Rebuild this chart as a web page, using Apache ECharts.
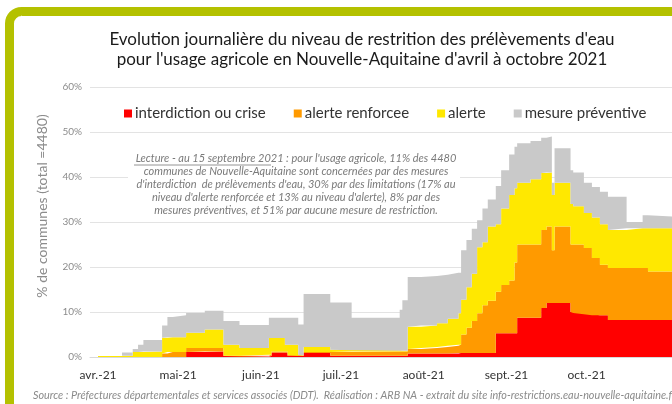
<!DOCTYPE html>
<html>
<head>
<meta charset="utf-8">
<script src="https://cdn.jsdelivr.net/npm/echarts@6/dist/echarts.min.js"></script>
<style>
    html, body { margin: 0; padding: 0; background: #ffffff; }
    #chart { width: 672px; height: 404px; }
</style>
</head>
<body>
<div id="chart"></div>
<script>
// dates where at least one level changes (value holds until the next date)
const breakDates = [
    "2021-04-01", "2021-04-10", "2021-04-14", "2021-04-16", "2021-04-18", "2021-04-25",
    "2021-04-27", "2021-04-29", "2021-05-04", "2021-05-11", "2021-05-18", "2021-05-24",
    "2021-06-04", "2021-06-05", "2021-06-10", "2021-06-11", "2021-06-15", "2021-06-17",
    "2021-06-27", "2021-07-05", "2021-07-23", "2021-07-24", "2021-07-26", "2021-07-31",
    "2021-08-06", "2021-08-10", "2021-08-14", "2021-08-15", "2021-08-17", "2021-08-19",
    "2021-08-21", "2021-08-23", "2021-08-25", "2021-08-28", "2021-08-30", "2021-09-02",
    "2021-09-04", "2021-09-05", "2021-09-10", "2021-09-14", "2021-09-16", "2021-09-18",
    "2021-09-19", "2021-09-25", "2021-09-26", "2021-09-30", "2021-10-03", "2021-10-06",
    "2021-10-09", "2021-10-16", "2021-10-22", "2021-10-24", "2021-11-02",
]

// % de communes par niveau
const crise = [
    0, 0, 0, 0, 0, 0,
    0, 0, 1.1, 1.2, 0.2, 0.1,
    0.2, 1.0, 1.0, 0.3, 0.2, 0.9,
    0.3, 0.3, 0.3, 0.3, 0.8, 0.8,
    0.8, 0.8, 0.9, 0.9, 0.9, 0.9,
    0.9, 0.9, 0.9, 5.3, 5.3, 5.3,
    5.3, 8.7, 8.7, 10.9, 12.0, 12.0,
    12.0, 10.0, 9.8, 9.5, 9.3, 9.3,
    8.2, 8.2, 8.2, 8.2, 8.2,
]
const renforcee = [
    0, 0, 0, 0, 0, 0.8,
    1.1, 1.1, 0.9, 0.8, 0.1, 0.2,
    0.3, 0.2, 0.2, 0.2, 0.1, 0.2,
    0.8, 0.9, 0.9, 0.9, 1.0, 1.2,
    1.4, 1.7, 1.8, 4.1, 5.6, 7.1,
    8.8, 10.6, 11.6, 9.2, 10.7, 11.7,
    15.7, 16.3, 16.3, 17.3, 17.0, 11.7,
    17.0, 15.0, 15.2, 14.7, 12.7, 11.2,
    11.6, 11.6, 11.6, 10.8, 10.8,
]
const alerte = [
    0.2, 0.3, 1.1, 1.1, 1.2, 3.5,
    3.3, 3.3, 3.4, 4.1, 2.4, 1.7,
    3.7, 3.0, 1.5, 2.2, 0.1, 1.1,
    0.5, 0.3, 0.2, 0.2, 4.9, 5.0,
    5.3, 6.0, 7.0, 7.7, 9.0, 10.5,
    14.7, 14.0, 16.5, 15.0, 17.0, 19.0,
    16.5, 13.7, 14.5, 12.7, 12.0, 12.3,
    9.7, 9.0, 8.5, 7.8, 9.0, 9.0,
    8.4, 8.8, 8.8, 9.6, 9.6,
]
const preventive = [
    0, 0.7, 0.7, 1.6, 2.6, 2.7,
    4.5, 4.9, 4.4, 4.2, 5.3, 5.1,
    4.5, 4.5, 6.0, 6.0, 6.8, 11.8,
    10.5, 7.2, 9.1, 11.2, 11.1, 11.0,
    10.8, 10.2, 9.0, 11.0, 10.5, 10.0,
    6.0, 7.5, 6.0, 8.5, 8.5, 9.0,
    9.2, 8.8, 8.5, 7.8, 8.0, 2.7,
    7.7, 7.5, 7.5, 6.7, 6.8, 7.2,
    7.4, 1.4, 2.9, 2.6, 2.6,
]

const seriesNames = ["interdiction ou crise", "alerte renforcee", "alerte", "mesure préventive"]
const seriesColors = ["#ff0000", "#ff9a00", "#ffe800", "#c9c9c9"]
const monthLabels = ["avr.-21", "mai-21", "juin-21", "juil.-21", "août-21", "sept.-21", "oct.-21"]
const yTicks = [0, 10, 20, 30, 40, 50, 60]

// one category per day, axis runs a bit past both ends of the data
const days = []
for (let d = new Date(2021, 2, 29); d <= new Date(2021, 10, 2); d.setDate(d.getDate() + 1)) {
    const mm = String(d.getMonth() + 1).padStart(2, "0")
    const dd = String(d.getDate()).padStart(2, "0")
    days.push(`2021-${mm}-${dd}`)
}

const monthOf = (day) => {
    if (day.slice(8) !== "01") return null
    const idx = parseInt(day.slice(5, 7), 10) - 4
    return idx >= 0 && idx < monthLabels.length ? monthLabels[idx] : null
}

const values = [crise, renforcee, alerte, preventive]
const series = values.map((list, i) => ({
    name: seriesNames[i],
    type: "line",
    stack: "total",
    step: "end",
    symbol: "none",
    lineStyle: { width: 0 },
    areaStyle: { color: seriesColors[i], opacity: 1 },
    itemStyle: { color: seriesColors[i] },
    data: breakDates.map((d, j) => [d, list[j]]),
}))

const font = "Lato, 'Open Sans', sans-serif"

const option = {
    animation: false,
    backgroundColor: "#ffffff",
    title: {
        text: "Evolution journalière du niveau de restrition des prélèvements d'eau\npour l'usage agricole en Nouvelle-Aquitaine d'avril à octobre 2021",
        left: 357,
        top: 25,
        textAlign: "center",
        textStyle: {
            fontFamily: font,
            fontSize: 17,
            fontWeight: "normal",
            lineHeight: 20,
            color: "#1a1a1a",
        },
    },
    legend: {
        data: seriesNames,
        left: 119,
        top: 101,
        icon: "rect",
        itemWidth: 8,
        itemHeight: 8,
        itemGap: 28,
        textStyle: { fontFamily: font, fontSize: 15, color: "#333333", padding: [0, 0, 0, -2] },
    },
    grid: { left: 90, right: 0, top: 87, bottom: 47 },
    xAxis: {
        type: "category",
        data: days,
        boundaryGap: false,
        axisLine: { lineStyle: { color: "#d9d9d9" } },
        axisTick: { show: false },
        axisLabel: {
            interval: (index, value) => monthOf(value) !== null,
            formatter: (value) => monthOf(value) || "",
            fontFamily: font,
            fontSize: 12,
            color: "#333333",
            margin: 12,
        },
    },
    yAxis: {
        type: "value",
        min: yTicks[0],
        max: yTicks[yTicks.length - 1],
        interval: 10,
        axisLine: { show: false },
        axisTick: { show: false },
        axisLabel: { formatter: "{value}%", fontFamily: font, fontSize: 10, color: "#8c8c8c", margin: 8 },
        splitLine: { lineStyle: { color: "#e3e3e3" } },
    },
    graphic: [
        {
            type: "rect",
            z: 10,
            shape: { x: 9.5, y: 11.5, width: 720, height: 460, r: 12 },
            style: { fill: "none", stroke: "#b4c100", lineWidth: 9 },
        },
        {
            type: "rect",
            z: 1,
            shape: { x: 128, y: 146, width: 332, height: 72 },
            style: { fill: "#ffffff" },
        },
        {
            type: "text",
            z: 3,
            x: 296,
            y: 152,
            style: {
                text: "Lecture - au 15 septembre 2021 : pour l'usage agricole, 11% des 4480\ncommunes de Nouvelle-Aquitaine sont concernées par des mesures\nd'interdiction  de prélèvements d'eau, 30% par des limitations (17% au\nniveau d'alerte renforcée et 13% au niveau d'alerte), 8% par des\nmesures préventives, et 51% par aucune mesure de restriction.",
                align: "center",
                verticalAlign: "top",
                fontFamily: font,
                fontStyle: "italic",
                fontSize: 11,
                lineHeight: 13,
                fill: "#7a7a7a",
            },
        },
        {
            type: "line",
            z: 3,
            shape: { x1: 134, y1: 165, x2: 271, y2: 165 },
            style: { stroke: "#7a7a7a", lineWidth: 0.8 },
        },
        {
            type: "text",
            z: 3,
            x: 42,
            y: 206,
            rotation: Math.PI / 2,
            style: {
                text: "% de communes (total =4480)",
                align: "center",
                verticalAlign: "middle",
                fontFamily: font,
                fontSize: 14,
                fill: "#8c8c8c",
            },
        },
        {
            type: "text",
            z: 3,
            x: 33,
            y: 396,
            style: {
                text: "Source : Préfectures départementales et services associés (DDT).  Réalisation : ARB NA - extrait du site info-restrictions.eau-nouvelle-aquitaine.fr",
                align: "left",
                verticalAlign: "middle",
                fontFamily: font,
                fontStyle: "italic",
                fontSize: 10.8,
                fill: "#8a8a8a",
            },
        },
    ],
    series: series,
}

const chart = echarts.init(document.getElementById("chart"))
chart.setOption(option)
</script>
</body>
</html>
